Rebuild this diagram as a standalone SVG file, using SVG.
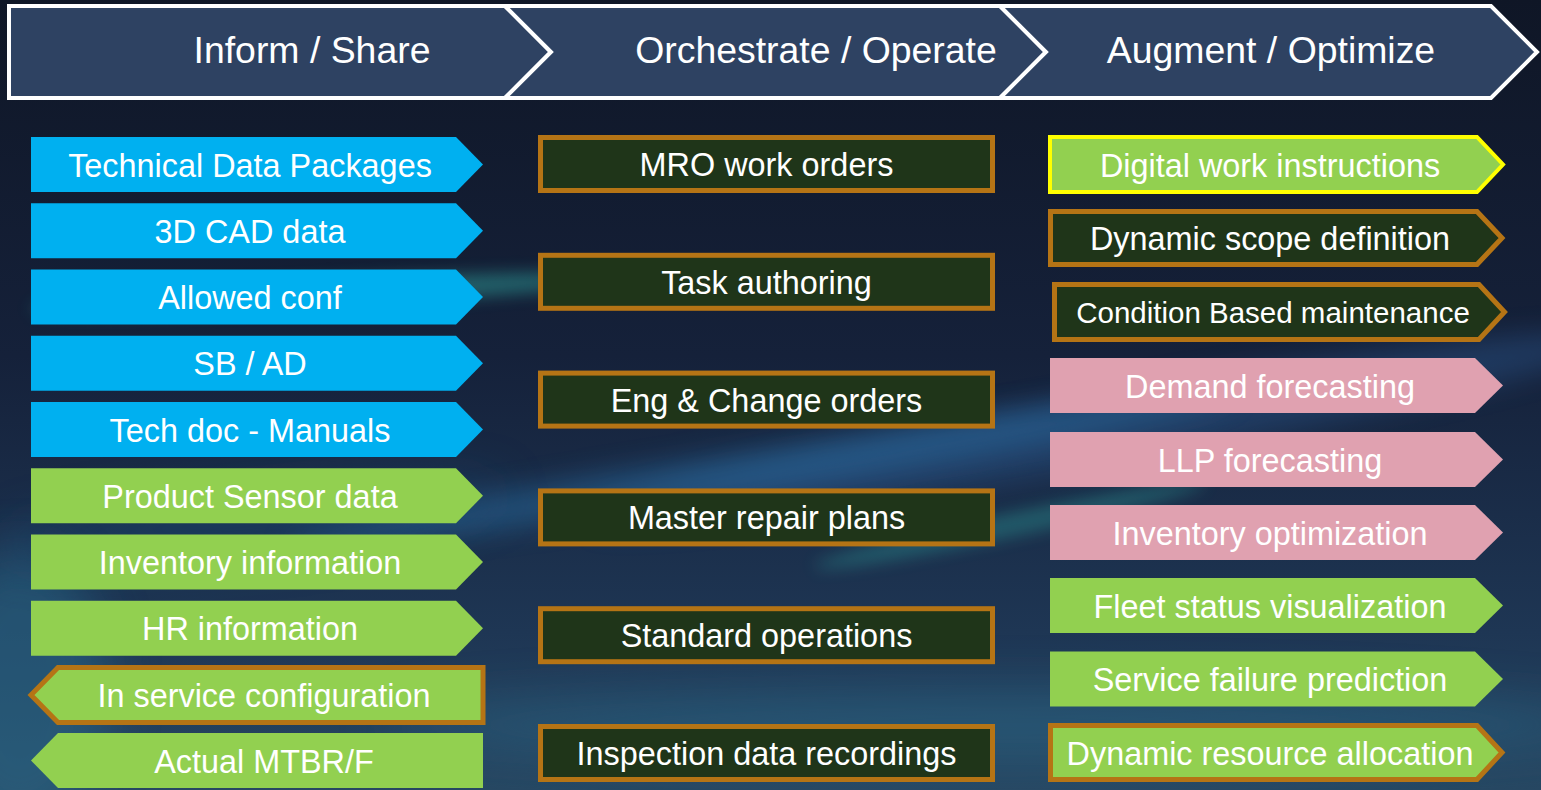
<svg xmlns="http://www.w3.org/2000/svg" width="1541" height="790" viewBox="0 0 1541 790">
<style>
.hdr{fill:#2E4262;stroke:#FFFFFF;stroke-width:4;stroke-linejoin:miter}
.ht{font-family:"Liberation Sans",Arial,sans-serif;font-size:37.4px;fill:#FFFFFF;text-anchor:middle}
.t{font-family:"Liberation Sans",Arial,sans-serif;font-size:32.4px;fill:#FFFFFF;text-anchor:middle}
.ts{font-family:"Liberation Sans",Arial,sans-serif;font-size:29.5px;fill:#FFFFFF;text-anchor:middle}
.blue{fill:#00B0F0}
.green{fill:#92D050}
.pink{fill:#E0A1B0}
.dark{fill:#1F3519}
.ob{stroke:#B57415;stroke-width:5;stroke-linejoin:miter}
.yb{stroke:#FFFF00;stroke-width:4;stroke-linejoin:miter}
</style>
<defs>
<linearGradient id="bg" x1="0" y1="0" x2="0" y2="1">
<stop offset="0" stop-color="#0F1626"/>
<stop offset="0.45" stop-color="#15213A"/>
<stop offset="0.8" stop-color="#1E3654"/>
<stop offset="1" stop-color="#274762"/>
</linearGradient>
<filter id="b8" x="-50%" y="-200%" width="200%" height="500%"><feGaussianBlur stdDeviation="8"/></filter>
<filter id="b14" x="-50%" y="-200%" width="200%" height="500%"><feGaussianBlur stdDeviation="14"/></filter>
<filter id="b25" x="-50%" y="-200%" width="200%" height="500%"><feGaussianBlur stdDeviation="25"/></filter>
</defs>

<g id="background">
<rect x="0" y="0" width="1541" height="790" fill="url(#bg)"/>
<ellipse cx="330" cy="293" rx="300" ry="13" fill="#2D9A96" opacity="0.55" filter="url(#b8)" transform="rotate(-3 330 293)"/>
<ellipse cx="1100" cy="430" rx="520" ry="35" fill="#2F5D96" opacity="0.4" filter="url(#b14)" transform="rotate(-10 1100 430)"/>
<ellipse cx="760" cy="470" rx="480" ry="20" fill="#2A72A8" opacity="0.5" filter="url(#b14)" transform="rotate(-9 760 470)"/>
<ellipse cx="1010" cy="525" rx="200" ry="12" fill="#2C8F8F" opacity="0.45" filter="url(#b8)" transform="rotate(-12 1010 525)"/>
<ellipse cx="1000" cy="725" rx="620" ry="35" fill="#2A6A8A" opacity="0.5" filter="url(#b25)"/>
<ellipse cx="20" cy="690" rx="90" ry="140" fill="#2A6A8A" opacity="0.55" filter="url(#b25)"/>
<ellipse cx="250" cy="520" rx="260" ry="30" fill="#1F4F7A" opacity="0.4" filter="url(#b25)" transform="rotate(-6 250 520)"/>
</g>

<g id="header">
<g id="h1"><path class="hdr" d="M9,6 L505,6 L551,52 L505,98 L9,98 Z"/><text class="ht" x="312" y="63">Inform / Share</text></g>
<g id="h2"><path class="hdr" d="M505,6 L1000,6 L1046,52 L1000,98 L505,98 L551,52 Z"/><text class="ht" x="816" y="63">Orchestrate / Operate</text></g>
<g id="h3"><path class="hdr" d="M1000,6 L1491,6 L1537,52 L1491,98 L1000,98 L1046,52 Z"/><text class="ht" x="1271" y="63">Augment / Optimize</text></g>
</g>

<g id="connectors"></g>

<g id="left">
<g id="l1"><path class="blue" d="M31,137 L456,137 L483,164.5 L456,192 L31,192 Z"/><text class="t" x="250" y="176.5">Technical Data Packages</text></g>
<g id="l2"><path class="blue" d="M31,203.25 L456,203.25 L483,230.75 L456,258.25 L31,258.25 Z"/><text class="t" x="250" y="242.75">3D CAD data</text></g>
<g id="l3"><path class="blue" d="M31,269.5 L456,269.5 L483,297 L456,324.5 L31,324.5 Z"/><text class="t" x="250" y="309">Allowed conf</text></g>
<g id="l4"><path class="blue" d="M31,335.75 L456,335.75 L483,363.25 L456,390.75 L31,390.75 Z"/><text class="t" x="250" y="375.25">SB / AD</text></g>
<g id="l5"><path class="blue" d="M31,402 L456,402 L483,429.5 L456,457 L31,457 Z"/><text class="t" x="250" y="441.5">Tech doc - Manuals</text></g>
<g id="l6"><path class="green" d="M31,468.25 L456,468.25 L483,495.75 L456,523.25 L31,523.25 Z"/><text class="t" x="250" y="507.75">Product Sensor data</text></g>
<g id="l7"><path class="green" d="M31,534.5 L456,534.5 L483,562 L456,589.5 L31,589.5 Z"/><text class="t" x="250" y="574">Inventory information</text></g>
<g id="l8"><path class="green" d="M31,600.75 L456,600.75 L483,628.25 L456,655.75 L31,655.75 Z"/><text class="t" x="250" y="640.25">HR information</text></g>
<g id="l9"><path class="green ob" d="M483,667.5 L58,667.5 L31,695 L58,722.5 L483,722.5 Z"/><text class="t" x="264" y="707">In service configuration</text></g>
<g id="l10"><path class="green" d="M483,733 L58,733 L31,760.5 L58,788 L483,788 Z"/><text class="t" x="264" y="772.5">Actual MTBR/F</text></g>
</g>

<g id="middle">
<g id="m1"><rect class="dark ob" x="540.5" y="137.5" width="452" height="53"/><text class="t" x="766.5" y="176">MRO work orders</text></g>
<g id="m2"><rect class="dark ob" x="540.5" y="255.3" width="452" height="53"/><text class="t" x="766.5" y="293.8">Task authoring</text></g>
<g id="m3"><rect class="dark ob" x="540.5" y="373.1" width="452" height="53"/><text class="t" x="766.5" y="411.6">Eng &amp; Change orders</text></g>
<g id="m4"><rect class="dark ob" x="540.5" y="490.9" width="452" height="53"/><text class="t" x="766.5" y="529.4">Master repair plans</text></g>
<g id="m5"><rect class="dark ob" x="540.5" y="608.7" width="452" height="53"/><text class="t" x="766.5" y="647.2">Standard operations</text></g>
<g id="m6"><rect class="dark ob" x="540.5" y="726.5" width="452" height="53"/><text class="t" x="766.5" y="765">Inspection data recordings</text></g>
</g>

<g id="right">
<g id="r1"><path class="green yb" d="M1050,137 L1477,137 L1503,164.5 L1477,192 L1050,192 Z"/><text class="t" x="1270" y="176.5">Digital work instructions</text></g>
<g id="r2"><path class="dark ob" d="M1050.5,211.5 L1477,211.5 L1502,238 L1477,264.5 L1050.5,264.5 Z"/><text class="t" x="1270" y="250">Dynamic scope definition</text></g>
<g id="r3"><path class="dark ob" d="M1054.5,284.5 L1479,284.5 L1504.5,312 L1479,339.5 L1054.5,339.5 Z"/><text class="ts" x="1273" y="322.5">Condition Based maintenance</text></g>
<g id="r4"><path class="pink" d="M1050,358 L1475,358 L1503,385.5 L1475,413 L1050,413 Z"/><text class="t" x="1270" y="397.5">Demand forecasting</text></g>
<g id="r5"><path class="pink" d="M1050,432 L1475,432 L1503,459.5 L1475,487 L1050,487 Z"/><text class="t" x="1270" y="471.5">LLP forecasting</text></g>
<g id="r6"><path class="pink" d="M1050,505 L1475,505 L1503,532.5 L1475,560 L1050,560 Z"/><text class="t" x="1270" y="544.5">Inventory optimization</text></g>
<g id="r7"><path class="green" d="M1050,578 L1475,578 L1503,605.5 L1475,633 L1050,633 Z"/><text class="t" x="1270" y="617.5">Fleet status visualization</text></g>
<g id="r8"><path class="green" d="M1050,651.5 L1475,651.5 L1503,679 L1475,706.5 L1050,706.5 Z"/><text class="t" x="1270" y="691">Service failure prediction</text></g>
<g id="r9"><path class="green ob" d="M1050.5,725.5 L1477,725.5 L1502,752.5 L1477,779.5 L1050.5,779.5 Z"/><text class="t" x="1270" y="764.5">Dynamic resource allocation</text></g>
</g>
</svg>
